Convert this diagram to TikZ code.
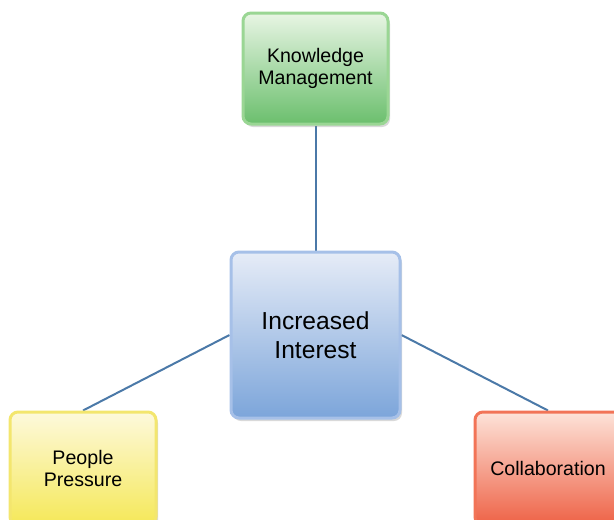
\documentclass[tikz,border=0pt]{standalone}
\usepackage{fontspec}
\setmainfont{Liberation Sans}
\usepackage{xcolor}
\usepackage{tikz}
\usetikzlibrary{positioning, shadows, backgrounds}
\definecolor{kmtop}{HTML}{E8F5E4}
\definecolor{kmbot}{HTML}{6BBF6D}
\definecolor{kmdraw}{HTML}{9AD694}
\definecolor{iitop}{HTML}{E6ECF7}
\definecolor{iibot}{HTML}{7CA5DA}
\definecolor{iidraw}{HTML}{A6C0E8}
\definecolor{pptop}{HTML}{FDF9DC}
\definecolor{ppbot}{HTML}{F5E858}
\definecolor{ppdraw}{HTML}{F3E66E}
\definecolor{cltop}{HTML}{FDE3D9}
\definecolor{clbot}{HTML}{EE6246}
\definecolor{cldraw}{HTML}{F27457}
\definecolor{linkc}{HTML}{4B79A8}
\tikzset{
  blk/.style={rectangle, rounded corners=8pt, line width=3pt, align=center,
    font=\fontsize{19.6}{22}\selectfont, inner sep=3pt,
    drop shadow={shadow xshift=2pt, shadow yshift=-3pt, opacity=0.3}},
  km/.style={blk, draw=kmdraw, top color=kmtop, bottom color=kmbot, minimum width=145pt, minimum height=111pt},
  ii/.style={blk, draw=iidraw, top color=iitop, bottom color=iibot, minimum width=169pt, minimum height=166pt,
    font=\fontsize{24.6}{29}\selectfont},
  pp/.style={blk, draw=ppdraw, top color=pptop, bottom color=ppbot, minimum width=146pt, minimum height=113pt},
  cl/.style={blk, draw=cldraw, top color=cltop, bottom color=clbot, minimum width=146pt, minimum height=113pt},
  link/.style={line width=2pt, draw=linkc},
}
\begin{document}
\begin{tikzpicture}[x=1pt, y=1pt]
  \useasboundingbox (0,0) rectangle (614,-520);
  \node[ii] (interest) at (315.5,-335) {Increased\\Interest};
  \node[km] (knowledge) at (315.5,-68.5) {Knowledge\\Management};
  \node[pp] (people) at (83,-468.5) {People\\Pressure};
  \node[cl] (collab) at (548,-468.5) {Collaboration};
  \begin{scope}[on background layer]
    \draw[link] (knowledge.south) -- (interest.north);
    \draw[link] (interest.west) -- (people.north);
    \draw[link] (interest.east) -- (collab.north);
  \end{scope}
\end{tikzpicture}
\end{document}
